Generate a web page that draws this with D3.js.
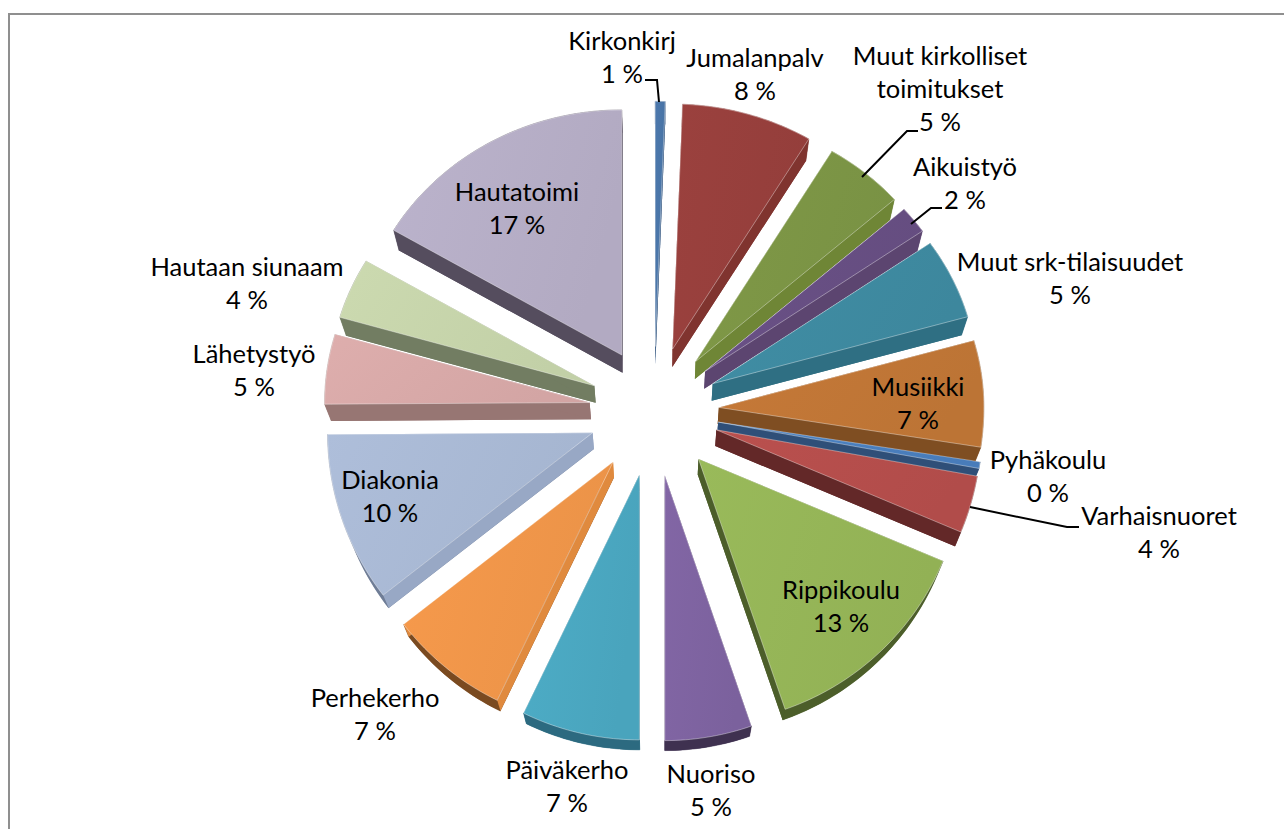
<!DOCTYPE html>
<html><head><meta charset="utf-8">
<script src="https://cdnjs.cloudflare.com/ajax/libs/d3/7.8.5/d3.min.js"></script>
<style>html,body{margin:0;padding:0;background:#fff;overflow:hidden}svg{display:block}</style>
</head><body><svg id="c" width="1284" height="829"></svg>
<script>
const categories = ["Kirkonkirj","Jumalanpalv","Muut kirkolliset toimitukset","Aikuistyö","Muut srk-tilaisuudet","Musiikki","Pyhäkoulu","Varhaisnuoret","Rippikoulu","Nuoriso","Päiväkerho","Perhekerho","Diakonia","Lähetystyö","Hautaan siunaam","Hautatoimi"];
const values = [0.6,8.0,4.9,1.8,5.3,6.8,0.4,3.5,13.4,5.3,7.2,7.3,10.4,4.6,4.0,16.5];
const labelLines = [["Kirkonkirj"],["Jumalanpalv"],["Muut kirkolliset","toimitukset"],["Aikuistyö"],["Muut srk-tilaisuudet"],["Musiikki"],["Pyhäkoulu"],["Varhaisnuoret"],["Rippikoulu"],["Nuoriso"],["Päiväkerho"],["Perhekerho"],["Diakonia"],["Lähetystyö"],["Hautaan siunaam"],["Hautatoimi"]];
const topColors = ["#4a75a8","#973f3c","#7c9545","#674f83","#3e8aa0","#c07636","#4a7fbe","#b54e4c","#95b557","#7e63a0","#4ba8c1","#f0964a","#a9b9d4","#d8a9a8","#c6d4ab","#b6aec6"];
const cutColors = ["#3a5c85","#80342f","#6f8636","#5c4570","#2f6f83","#7f4e22","#2f4f78","#632828","#4c5e2a","#3f3150","#2c6a80","#e08a3e","#98a8c5","#977673","#727d62","#554d5e"];
const rimColors = ["#3a5c85","#7f3430","#6a7f38","#5c4570","#2f6f83","#7f4e22","#2f4f78","#632828","#4c5e2a","#3f3150","#2c6a80","#7a4a20","#6f7d96","#977673","#727d62","#554d5e"];
const labelAnchors = [[622,50],[755,67],[940,65],[965,176],[1070,271],[918,396],[1048,469],[1159,525],[841,599],[711,783],[567,779],[375,707],[390,489],[254,363],[247,276],[517,201]];
const leaders = [
  [[659,102],[657,80],[645,80]],
  [[862,177],[907,131],[918,131]],
  [[911,224],[931,208],[942,208]],
  [[970,507],[1067,527],[1079,527]]
];
const W=1284,H=829, cx=654, cy=411.5, R=265, explode=65, upperK=0.925, vanish=[660,1240], sink=0.02, lineH=33;
const svg=d3.select("#c");
const defs=svg.append("defs");
svg.append("path").attr("d","M9 829V14H1284").attr("fill","none").attr("stroke","#8f8f8f").attr("stroke-width",2);

const pie=d3.pie().sort(null).value(d=>d);
const arcs=pie(values);
const rScale=d3.scaleLinear().domain([0,1]).range([0,R]);
const lineGen=d3.line().curve(d3.curveLinearClosed);
const sunk=p=>[p[0]+sink*(vanish[0]-p[0]),p[1]+sink*(vanish[1]-p[1])];

const slices=arcs.map((a,i)=>{
  const mid=(a.startAngle+a.endAngle)/2;
  const ax=cx+explode*Math.sin(mid), ay=cy-explode*Math.cos(mid);
  const pt=t=>{const c=-Math.cos(t);return [ax+rScale(1)*Math.sin(t), ay+rScale(1)*c*(c<0?upperK:1)];};
  const steps=Math.max(2,Math.ceil((a.endAngle-a.startAngle)/0.02));
  const rim=d3.range(steps+1).map(k=>pt(a.startAngle+(a.endAngle-a.startAngle)*k/steps));
  return {i,mid,apex:[ax,ay],rim};
});

slices.sort((p,q)=>Math.cos(q.mid)-Math.cos(p.mid));
const g=svg.append("g");
slices.forEach(s=>{
  const i=s.i, gid="grad"+i, base=d3.color(topColors[i]);
  const gr=defs.append("linearGradient").attr("id",gid).attr("x1",0).attr("y1",0).attr("x2",1).attr("y2",0.3);
  gr.append("stop").attr("offset",0).attr("stop-color",base.brighter(0.08).formatHex());
  gr.append("stop").attr("offset",1).attr("stop-color",base.darker(0.06).formatHex());
  const top=[s.apex,...s.rim], bot=top.map(sunk);
  const sg=g.append("g");
  sg.append("path").attr("d",lineGen(bot)).attr("fill",rimColors[i]);
  sg.append("path").attr("d",lineGen([...s.rim,...s.rim.map(sunk).reverse()])).attr("fill",rimColors[i]).attr("stroke",rimColors[i]).attr("stroke-width",0.5);
  [s.rim[0],s.rim[s.rim.length-1]].forEach(p=>{
    sg.append("path").attr("d",lineGen([s.apex,p,sunk(p),sunk(s.apex)])).attr("fill",cutColors[i]);
  });
  sg.append("path").attr("d",lineGen(top)).attr("fill",`url(#${gid})`).attr("stroke","#fff").attr("stroke-opacity",0.55).attr("stroke-width",0.7).attr("stroke-linejoin","round");
});

const leaderLine=d3.line();
svg.append("g").selectAll("path").data(leaders).join("path").attr("d",leaderLine).attr("fill","none").attr("stroke","#000").attr("stroke-width",2);

const lg=svg.append("g").attr("font-family","Lato, 'Open Sans', sans-serif").attr("font-size",25.5).attr("fill","#000").attr("text-anchor","middle");
categories.forEach((c,i)=>{
  const [x,y]=labelAnchors[i];
  const lines=[...labelLines[i],(Math.round(values[i]))+" %"];
  lines.forEach((t,k)=>lg.append("text").attr("x",x).attr("y",y+k*lineH).text(t));
});
</script></body></html>
